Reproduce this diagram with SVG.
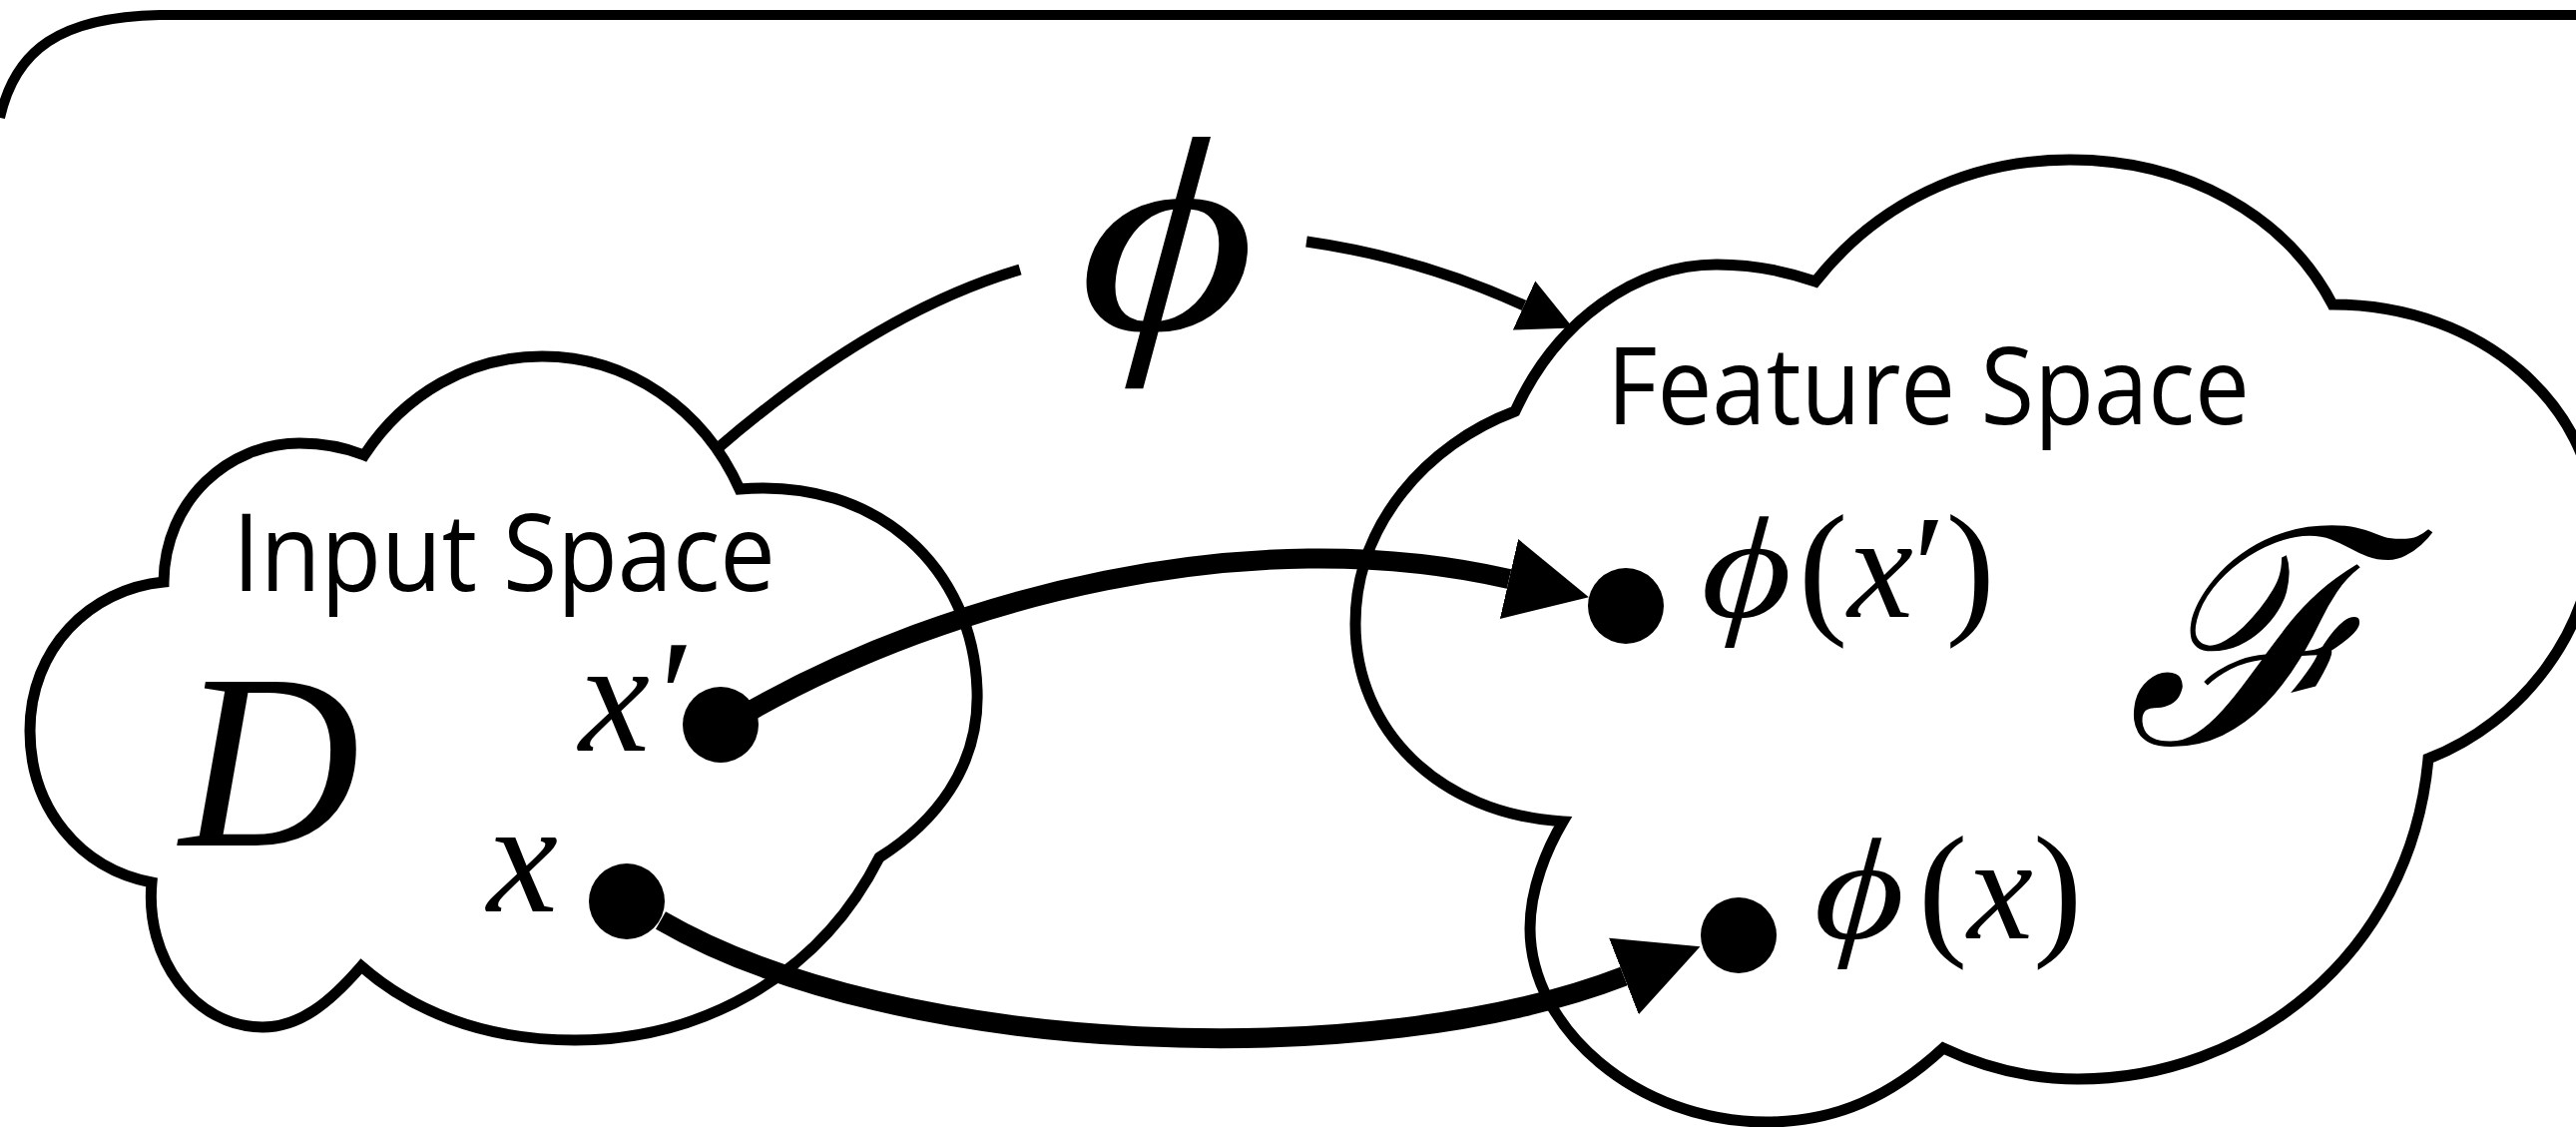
<svg xmlns="http://www.w3.org/2000/svg" width="2581" height="1129" viewBox="0 0 2581 1129">
  <style>
    .outline { fill: none; stroke: #000; stroke-width: 11; stroke-linejoin: miter; }
    .frame { fill: none; stroke: #000; stroke-width: 10; }
    .map { fill: none; stroke: #000; stroke-width: 20; }
    .phi-line { fill: none; stroke: #000; stroke-width: 11; }
    .dot { fill: #000; }
    .label { font-family: "Open Sans", "Noto Sans", sans-serif; font-size: 108px; fill: #000; }
    .math { font-family: "Liberation Serif", "DejaVu Serif", serif; fill: #000; }
    .it { font-style: italic; }
  </style>
  <defs>
    <marker id="head-big" markerUnits="userSpaceOnUse" viewBox="0 -45 90 90" markerWidth="90" markerHeight="90" refX="0" refY="0" orient="auto">
      <path d="M0,-41 L82,0 L0,41 Z" fill="#000"/>
    </marker>
    <marker id="head-small" markerUnits="userSpaceOnUse" viewBox="0 -30 60 60" markerWidth="60" markerHeight="60" refX="0" refY="0" orient="auto">
      <path d="M0,-27 L54,0 L0,27 Z" fill="#000"/>
    </marker>
  </defs>

  <rect width="2581" height="1129" fill="#fff"/>

  <!-- outer rounded frame, running off the right and bottom edges -->
  <path class="frame" d="M0,118 C15,50 60,17 160,15 L2590,15"/>

  <!-- input space cloud -->
  <g id="input-space">
    <path class="outline" d="M164,583 C165,500 230,444 300,444 C330,444 350,450 365,456
      C405,395 470,357 543,357 C630,357 705,410 741,490
      C880,478 975,570 979,691 C982,770 935,825 881,859
      C820,980 700,1042 576,1042 C480,1042 410,1010 362,968
      C330,1005 300,1029 263,1029 C195,1029 145,960 152,884
      C80,870 30,810 30,732 C30,650 90,590 164,583 Z"/>
    <text class="label" x="233" y="592" textLength="544" lengthAdjust="spacingAndGlyphs">Input Space</text>
    <text class="math it" x="180" y="847" font-size="250">D</text>
  </g>

  <!-- feature space cloud -->
  <g id="feature-space">
    <path class="outline" d="M1518,412 C1560,320 1640,265 1720,265 C1760,265 1790,272 1819,282
      C1880,205 1970,160 2074,160 C2190,160 2290,215 2337,305
      C2490,305 2598,410 2600,520 C2602,630 2525,725 2433,760
      C2415,960 2250,1081 2082,1081 C2030,1081 1985,1068 1947,1050
      C1895,1098 1840,1124 1770,1124 C1640,1124 1533,1030 1533,930 C1533,890 1550,850 1566,823
      C1440,815 1358,730 1358,625 C1358,525 1430,445 1518,412 Z"/>
    <text class="label" x="1610" y="425" textLength="644" lengthAdjust="spacingAndGlyphs">Feature Space</text>
    <text class="math it" font-family="DejaVu Serif, serif" x="2130" y="745" font-size="300">ℱ</text>
  </g>

  <!-- the map label -->
  <g id="map-label">
    <text class="math it" transform="translate(1166,330) skewX(-3) scale(1.22,1)" x="0" y="0" font-size="278" text-anchor="middle">ϕ</text>
  </g>

  <!-- connectors -->
  <g id="connectors">
    <path class="phi-line" d="M718,450 C820,362 920,300 1022,270"/>
    <path class="phi-line" marker-end="url(#head-small)" d="M1309,242 C1400,255 1470,280 1527,306"/>
    <path class="map" marker-end="url(#head-big)" d="M752,712 C950,600 1250,520 1512,580"/>
    <path class="map" marker-end="url(#head-big)" d="M662,922 C900,1060 1377,1075 1627,978"/>
  </g>

  <!-- points and their images -->
  <g id="point-x-prime">
    <circle class="dot" cx="722" cy="726" r="38"/>
    <text class="math it" x="580" y="752" font-size="160">x′</text>
  </g>
  <g id="point-x">
    <circle class="dot" cx="628" cy="903" r="38"/>
    <text class="math it" x="488" y="913" font-size="160">x</text>
  </g>
  <g id="image-x-prime">
    <circle class="dot" cx="1629" cy="607" r="38"/>
    <text class="math it" transform="translate(1748,618) skewX(-3) scale(1.2,1)" x="0" y="0" font-size="145" text-anchor="middle">ϕ</text>
    <text class="math" x="1802" y="618" font-size="148">(<tspan class="it">x</tspan>′)</text>
  </g>
  <g id="image-x">
    <circle class="dot" cx="1742" cy="937" r="38"/>
    <text class="math it" transform="translate(1861,940) skewX(-3) scale(1.2,1)" x="0" y="0" font-size="145" text-anchor="middle">ϕ</text>
    <text class="math" x="1922" y="940" font-size="148">(<tspan class="it">x</tspan>)</text>
  </g>
</svg>
